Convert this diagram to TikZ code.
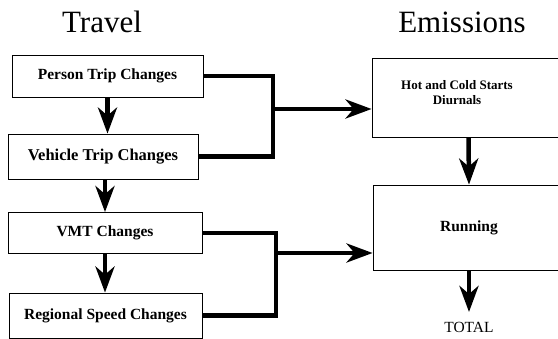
\documentclass[tikz,border=0pt]{standalone}
\usepackage{fontspec}
\setmainfont{Liberation Serif}
\usetikzlibrary{arrows.meta}
\begin{document}
\begin{tikzpicture}[x=1pt,y=-1pt,
  box/.style={draw,line width=0.8pt,inner sep=0pt,
    font=\bfseries\fontsize{15.5}{17}\selectfont},
  link/.style={line width=4.5pt,line join=miter},
  flow/.style={link,-{Stealth[length=26pt,width=19pt,inset=8pt]}},
  title/.style={font=\fontsize{31}{34}\selectfont,anchor=base}]
\clip (0,0) rectangle (558,339);
\fill[white] (0,0) rectangle (558,339);

% column headings
\node[title] (travel) at (102,33) {Travel};
\node[title] (emis) at (462,33) {Emissions};

% travel side
\node[box,minimum width=191pt,minimum height=42pt] (pt) at (107.5,76) {Person Trip Changes};
\node[box,minimum width=190pt,minimum height=45pt,font=\bfseries\fontsize{16.5}{18}\selectfont] (vt) at (103,156.5) {Vehicle Trip Changes};
\node[box,minimum width=194pt,minimum height=41pt] (vmt) at (105,233) {VMT Changes};
\node[box,minimum width=193pt,minimum height=45pt] (rs) at (105.5,315.5) {Regional Speed Changes};

% emissions side (boxes run past the right edge)
\node[box,minimum width=193pt,minimum height=79pt] (hc) at (468.5,97.5) {};
\node[font=\bfseries\fontsize{13}{15}\selectfont,align=center] (hclabel) at (457,93) {Hot and Cold Starts\\Diurnals};
\node[box,minimum width=192pt,minimum height=85pt] (run) at (469,227.5) {Running};
\node[font=\fontsize{15.5}{17}\selectfont] (total) at (469,327) {TOTAL};
\coordinate (totaltip) at (469,312);

% vertical steps
\draw[flow] (pt.south) -- (pt.south |- vt.north);
\draw[flow] (vmt.north |- vt.south) -- (vmt.north);
\draw[flow] (vmt.south) -- (vmt.south |- rs.north);
\draw[flow] (hc.south) -- (run.north);
\draw[flow] (run.south) -- (totaltip);

% trip changes feed starts/diurnals
\coordinate (jt) at (273,109);
\draw[link] (pt.east) -| (jt) |- (vt.east);
\draw[flow] (jt) -- (hc.west |- jt);

% VMT and speed changes feed running
\coordinate (jb) at (276,253);
\draw[link] (vmt.east) -| (jb) |- (rs.east);
\draw[flow] (jb) -- (run.west |- jb);
\end{tikzpicture}
\end{document}
